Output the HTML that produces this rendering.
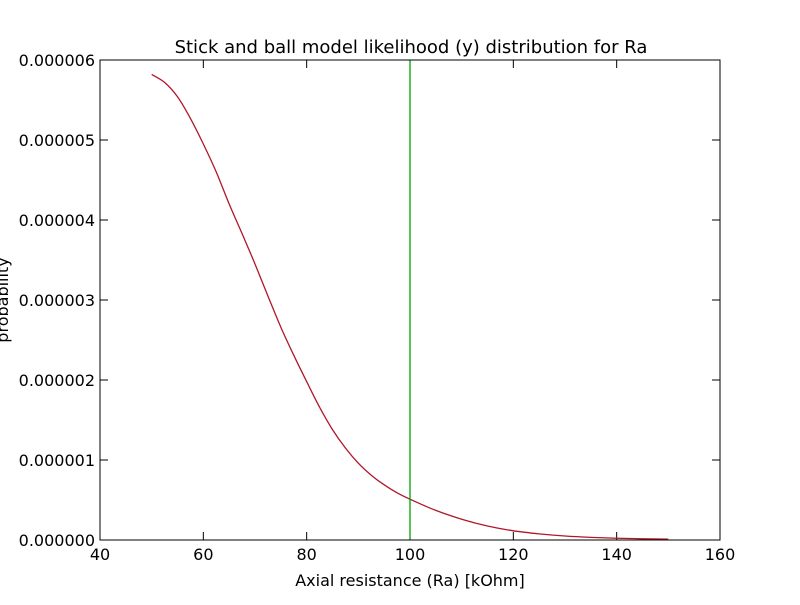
<!DOCTYPE html>
<html><head><meta charset="utf-8"><style>
body{margin:0;background:#fff;}
svg text{font-family:"DejaVu Sans","Liberation Sans",sans-serif;}
</style></head><body>
<svg width="800" height="600" xmlns="http://www.w3.org/2000/svg">
<rect x="0" y="0" width="800" height="600" fill="#fff"/>
<text x="411" y="53" font-size="18" text-anchor="middle">Stick and ball model likelihood (y) distribution for Ra</text>
<g id="ticks"></g>
<path id="curve" fill="none" stroke="#b0172a" stroke-width="1.3"/>
<line id="vline" stroke="#00a000" stroke-width="1.3"/>
<rect x="100" y="60" width="620" height="480" fill="none" stroke="#000" stroke-width="1"/>
<text x="410" y="586" font-size="16" text-anchor="middle">Axial resistance (Ra) [kOhm]</text>
<text transform="translate(8,300) rotate(-90)" font-size="16" text-anchor="middle">probability</text>
</svg>
<script>
const xTicks=[40,60,80,100,120,140,160];
const yTicks=[0,1,2,3,4,5,6];
const yTickLabels=["0.000000","0.000001","0.000002","0.000003","0.000004","0.000005","0.000006"];
const raValues=[50,52.5,55,57.5,60,62.5,65,67.5,70,72.5,75,77.5,80,82.5,85,87.5,90,92.5,95,97.5,100,105,110,115,120,125,130,135,140,145,150];
const probValues=[5.82,5.72,5.54,5.27,4.95,4.6,4.2,3.83,3.45,3.05,2.66,2.31,1.98,1.66,1.38,1.15,0.96,0.81,0.69,0.59,0.51,0.37,0.26,0.175,0.115,0.077,0.05,0.033,0.022,0.015,0.01];
const trueValue=100;
const X=v=>100+(v-40)/120*620;
const Y=v=>540-v/6*480;
const NS="http://www.w3.org/2000/svg";
const g=document.getElementById('ticks');
function ln(x1,y1,x2,y2,name){const l=document.createElementNS(NS,'line');l.setAttribute('x1',x1);l.setAttribute('y1',y1);l.setAttribute('x2',x2);l.setAttribute('y2',y2);l.setAttribute('stroke','#000');


g.appendChild(l);}
function tx(x,y,s,anchor,name){const t=document.createElementNS(NS,'text');t.setAttribute('x',x);t.setAttribute('y',y);t.setAttribute('font-size','16');t.setAttribute('text-anchor',anchor);t.textContent=s;


g.appendChild(t);}
xTicks.forEach(v=>{const x=X(v);ln(x,540,x,532,'x-tick');ln(x,60,x,68,'x-tick-top');tx(x,560,String(v),'middle','x-tick-label');});
yTicks.forEach((v,i)=>{const y=Y(v);ln(100,y,108,y,'y-tick');ln(720,y,712,y,'y-tick-right');tx(95,y+6,yTickLabels[i],'end','y-tick-label');});
const pts=raValues.map((r,i)=>[X(r),Y(probValues[i])]);
let d=`M${pts[0][0]},${pts[0][1]}`;
for(let i=0;i<pts.length-1;i++){const p0=pts[Math.max(i-1,0)],p1=pts[i],p2=pts[i+1],p3=pts[Math.min(i+2,pts.length-1)];
d+=` C${p1[0]+(p2[0]-p0[0])/6},${p1[1]+(p2[1]-p0[1])/6} ${p2[0]-(p3[0]-p1[0])/6},${p2[1]-(p3[1]-p1[1])/6} ${p2[0]},${p2[1]}`;}
document.getElementById('curve').setAttribute('d',d);
const vl=document.getElementById('vline');
vl.setAttribute('x1',X(trueValue));vl.setAttribute('x2',X(trueValue));vl.setAttribute('y1',60);vl.setAttribute('y2',540);
</script>
</body></html>
